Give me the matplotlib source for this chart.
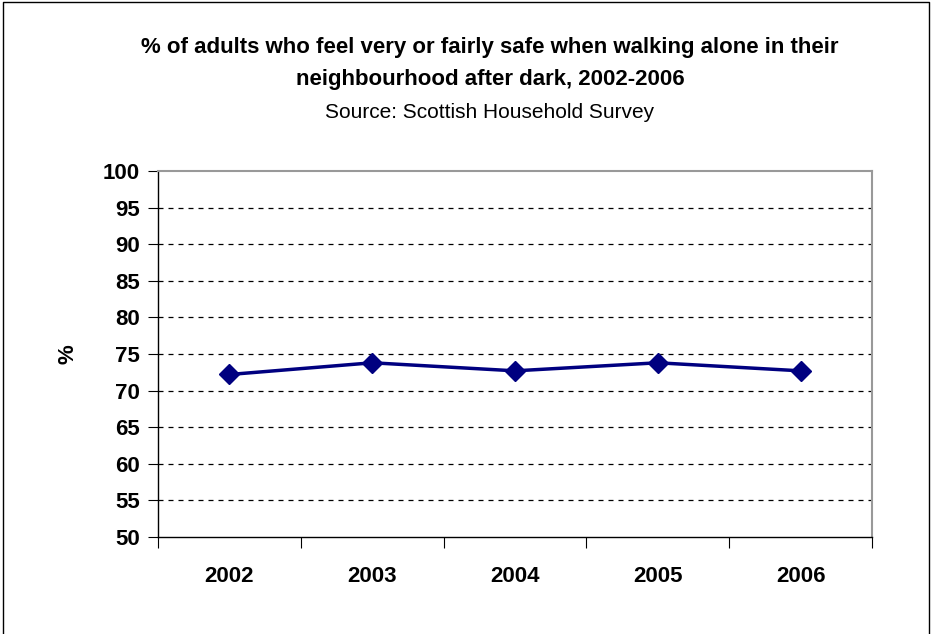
import matplotlib.pyplot as plt
from matplotlib.lines import Line2D

years = ["2002", "2003", "2004", "2005", "2006"]
pct_safe = [72.2, 73.8, 72.7, 73.8, 72.7]
y_ticks = list(range(50, 101, 5))

title_lines = ["% of adults who feel very or fairly safe when walking alone in their",
               "neighbourhood after dark, 2002-2006"]
source_text = "Source: Scottish Household Survey"

plt.rcParams['font.family'] = ['Liberation Sans', 'DejaVu Sans']

fig = plt.figure(figsize=(9.32, 6.34), dpi=100)
W, H = 932, 634

# plot area in pixel terms
left, right, top, bottom = 158, 872, 171, 537
ax = fig.add_axes([left / W, 1 - bottom / H, (right - left) / W, (bottom - top) / H])

x = [i + 0.5 for i in range(len(years))]
ax.plot(x, pct_safe, color="#000080", linewidth=2.5, marker="D", markersize=10,
        markeredgecolor="#000080", markerfacecolor="#000080", zorder=3)

ax.set_xlim(0, len(years))
ax.set_ylim(50, 100)
ax.set_yticks(y_ticks)
ax.set_yticklabels([str(t) for t in y_ticks], fontsize=16, fontweight="bold")
ax.set_xticks(range(len(years) + 1))
ax.set_xticklabels([])
ax.set_xticks(x, minor=True)
ax.set_xticklabels(years, minor=True, fontsize=16, fontweight="bold")
ax.tick_params(axis="x", which="minor", length=0, pad=21)
ax.tick_params(axis="x", which="major", length=8, width=0.8, direction="out")
ax.tick_params(axis="y", length=7, width=0.8, direction="out", pad=6)

for t in y_ticks[1:-1]:
    ax.axhline(t, color="black", linewidth=0.9, linestyle=(0, (4, 4)), zorder=1)

for side in ["top", "right"]:
    ax.spines[side].set_color("#999999")
    ax.spines[side].set_linewidth(1.5)
for side in ["left", "bottom"]:
    ax.spines[side].set_color("black")
    ax.spines[side].set_linewidth(1)

ax.set_ylabel("%", fontsize=16, fontweight="bold")
ax.yaxis.set_label_coords((78 - left) / (right - left), 0.5)

fig.text(490 / W, 1 - 48 / H, title_lines[0], ha="center", va="center", fontsize=16,
         fontweight="bold")
fig.text(490 / W, 1 - 80 / H, title_lines[1], ha="center", va="center", fontsize=16,
         fontweight="bold")
fig.text(490 / W, 1 - 113 / H, source_text, ha="center", va="center", fontsize=15)

# outer chart border (left, top, right)
bx0, bx1, by = 3 / W, 1 - 3 / W, 1 - 2 / H
fig.lines.append(Line2D([bx0, bx0, bx1, bx1], [0, by, by, 0], transform=fig.transFigure,
                        color="black", linewidth=1))

fig.savefig("out.png", dpi=100)
